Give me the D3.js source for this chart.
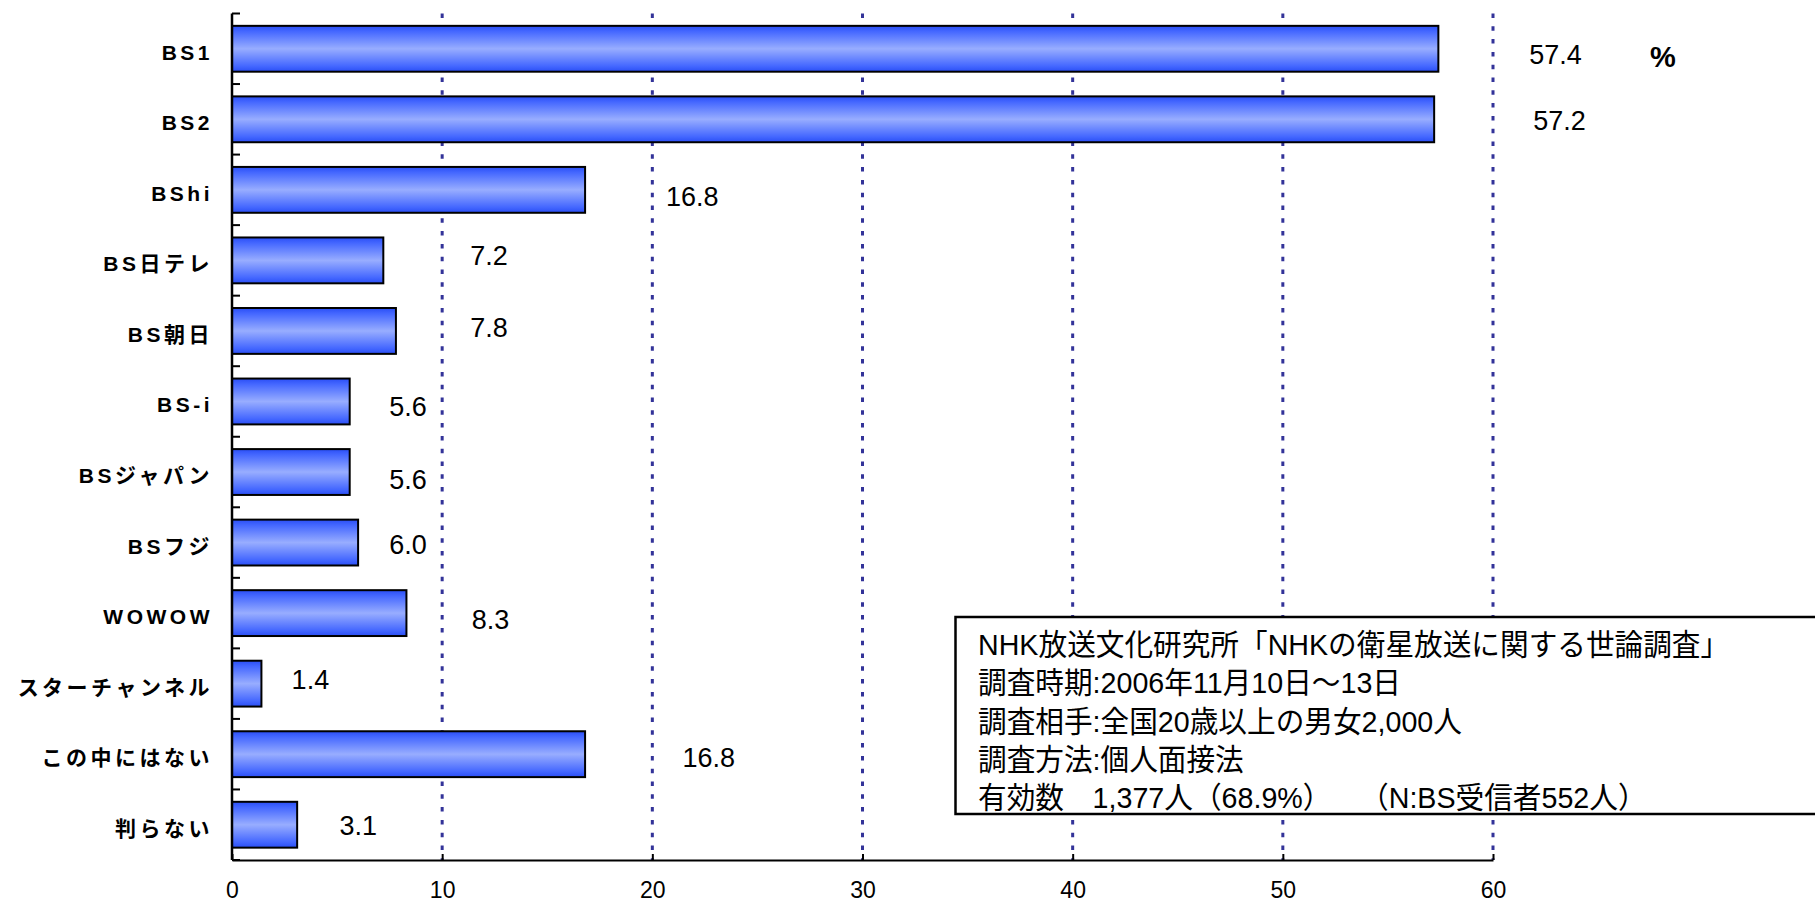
<!DOCTYPE html>
<html><head><meta charset="utf-8">
<script src="https://cdn.jsdelivr.net/npm/d3@7"></script>
<style>body{margin:0;background:#fff;} svg{display:block}</style>
</head><body>
<svg id="chart" width="1815" height="902"></svg>
<script>
// ---- data ----
const categories = ["BS1","BS2","BShi","BS日テレ","BS朝日","BS-i","BSジャパン","BSフジ","WOWOW","スターチャンネル","この中にはない","判らない"];
const values = [57.4,57.2,16.8,7.2,7.8,5.6,5.6,6.0,8.3,1.4,16.8,3.1];
const valueLabels = ["57.4","57.2","16.8","7.2","7.8","5.6","5.6","6.0","8.3","1.4","16.8","3.1"];
const xTicks = [0,10,20,30,40,50,60];
const unitLabel = "%";
const noteLines = [
  "NHK放送文化研究所「NHKの衛星放送に関する世論調査」",
  "調査時期:2006年11月10日～13日",
  "調査相手:全国20歳以上の男女2,000人",
  "調査方法:個人面接法",
  "有効数　1,377人（68.9%）　　（N:BS受信者552人）"
];
// manual data-label placement: centre along x in value units, small vertical nudge in px
const labelAt = [62.97,63.16,21.9,12.23,12.23,8.38,8.38,8.38,12.3,3.73,22.68,6.01];
const labelNudge = [6,2,7,-4,-3,6,8,2,7,-4,4,1];

// ---- layout ----
const W = 1815, H = 902;
const plotL = 232, plotR = 1493, plotT = 13.5, plotB = 860;
const svg = d3.select("#chart");

const x = d3.scaleLinear().domain([0,60]).range([plotL,plotR]);
const y = d3.scaleBand().domain(categories).range([plotT,plotB]).paddingInner(0.35).paddingOuter(0.175);

const defs = svg.append("defs");
const grad = defs.append("linearGradient").attr("id","barGrad").attr("x1",0).attr("y1",0).attr("x2",0).attr("y2",1);
[[0,"#2a4ef5"],[0.12,"#4467ff"],[0.5,"#98adff"],[0.88,"#4467ff"],[1,"#2a4ef5"]].forEach(([o,c])=>
  grad.append("stop").attr("offset",o).attr("stop-color",c));

// gridlines
svg.append("g").selectAll("line").data(xTicks.filter(d=>d>0)).join("line")
  .attr("x1",d=>x(d)).attr("x2",d=>x(d)).attr("y1",plotT).attr("y2",plotB)
  .attr("stroke","#333399").attr("stroke-width",3).attr("stroke-dasharray","4.5,8.3");

// bars
svg.append("g").selectAll("rect").data(values).join("rect")
  .attr("x",x(0)).attr("y",(d,i)=>y(categories[i]))
  .attr("width",d=>x(d)-x(0)).attr("height",y.bandwidth())
  .attr("fill","url(#barGrad)").attr("stroke","#000").attr("stroke-width",2);

// x axis
const xAxis = d3.axisBottom(x).tickValues(xTicks).tickSizeInner(-6).tickSizeOuter(0).tickPadding(22);
const gx = svg.append("g").attr("transform",`translate(0,${plotB})`).call(xAxis);
gx.select(".domain").attr("stroke","#000").attr("stroke-width",2);
gx.selectAll(".tick line").attr("stroke","#000").attr("stroke-width",2);
gx.selectAll(".tick text").attr("font-family","'Liberation Sans', Arial, sans-serif").attr("font-size",23).attr("fill","#000");

// y axis
const gy = svg.append("g").attr("transform",`translate(${plotL},0)`);
gy.append("line").attr("x1",0).attr("x2",0).attr("y1",plotT).attr("y2",plotB).attr("stroke","#000").attr("stroke-width",2.5);
const boundaries = d3.range(categories.length).map(i=>y(categories[i]) - y.step()*y.paddingInner()/2);
boundaries.push(plotB);
gy.selectAll("line.tk").data(boundaries).join("line").attr("class","tk")
  .attr("x1",0).attr("x2",8).attr("y1",d=>d).attr("y2",d=>d).attr("stroke","#000").attr("stroke-width",2);
gy.selectAll("text").data(categories).join("text")
  .attr("x",-19).attr("y",d=>y(d)+y.bandwidth()/2+3.5)
  .attr("text-anchor","end").attr("dominant-baseline","central")
  .attr("font-family","'Liberation Sans', 'Noto Sans CJK JP', sans-serif").attr("font-weight","bold")
  .attr("font-size",21).attr("letter-spacing","3.5px").attr("fill","#000")
  .text(d=>d);

// value labels
svg.append("g").selectAll("text").data(valueLabels).join("text")
  .attr("x",(d,i)=>x(labelAt[i]))
  .attr("y",(d,i)=>y(categories[i])+y.bandwidth()/2+labelNudge[i])
  .attr("text-anchor","middle").attr("dominant-baseline","central")
  .attr("font-family","'Liberation Sans', Arial, sans-serif").attr("font-size",27).attr("fill","#000")
  .text(d=>d);
svg.append("text").attr("x",1663).attr("y",57).attr("text-anchor","middle").attr("dominant-baseline","central")
  .attr("font-family","'Liberation Sans', Arial, sans-serif").attr("font-size",29).attr("font-weight","bold").attr("fill","#000").text(unitLabel);

// note box
const box = svg.append("g");
box.append("rect").attr("x",955.5).attr("y",617).attr("width",W-955.5+10).attr("height",197)
  .attr("fill","#fff").attr("stroke","#000").attr("stroke-width",2.5);
box.append("g").attr("transform","translate(978,0) scale(0.955,1)")
  .selectAll("text").data(noteLines).join("text")
  .attr("x",0).attr("y",(d,i)=>655+i*38.3)
  .attr("font-family","'Liberation Sans', 'Noto Sans CJK JP', sans-serif").attr("font-size",30).attr("fill","#000")
  .text(d=>d);
</script>
</body></html>
